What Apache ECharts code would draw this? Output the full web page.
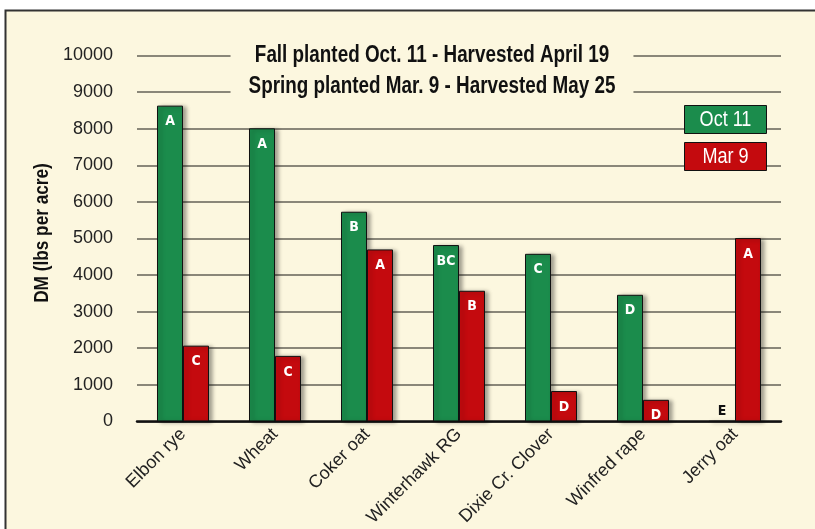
<!DOCTYPE html>
<html>
<head>
  <meta charset="utf-8">
  <title>DM yield</title>
  <script src="https://cdn.jsdelivr.net/npm/echarts@6/dist/echarts.min.js"></script>
  <style>
    html, body { margin: 0; padding: 0; background: #fff; }
    #chart { width: 815px; height: 529px; }
  </style>
</head>
<body>
<div id="chart"></div>
<script type="text/javascript">
  // values
  const categories = ['Elbon rye', 'Wheat', 'Coker oat', 'Winterhawk RG', 'Dixie Cr. Clover', 'Winfred rape', 'Jerry oat'];
  const seriesNames = ['Oct 11', 'Mar 9'];
  const oct11 = [8630, 8010, 5730, 4820, 4580, 3460, 0];
  const mar9 = [2070, 1790, 4700, 3570, 830, 590, 5010];
  const oct11Letters = ['A', 'A', 'B', 'BC', 'C', 'D', 'E'];
  const mar9Letters = ['C', 'C', 'A', 'B', 'D', 'D', 'A'];
  const yMin = 0, yMax = 10000, yStep = 1000;
  const titleLines = ['Fall planted Oct. 11 - Harvested April 19', 'Spring planted Mar. 9 - Harvested May 25'];
  const yName = 'DM (lbs per acre)';

  const cream = '#fcf7df';
  const colors = ['#1b8c4c', '#c40a0e'];
  const sans = "'Liberation Sans', Arial, sans-serif";
  const narrow = "'Liberation Sans Narrow', 'DejaVu Sans Condensed', sans-serif";
  const squeeze = 0.82; // fake a narrow face

  function barData(values, letters) {
    return values.map((v, i) => {
      const item = { value: v, label: { formatter: letters[i] } };
      if (v === 0) {
        item.label.position = 'top';
        item.label.distance = 3;
        item.label.color = '#111';
      }
      return item;
    });
  }

  const barStyle = (color) => ({
    color: color,
    borderColor: '#111',
    borderWidth: 1,
    shadowBlur: 4,
    shadowColor: 'rgba(0,0,0,0.35)',
    shadowOffsetX: 3,
    shadowOffsetY: 1
  });

  const barLabel = {
    show: true,
    position: 'insideTop',
    distance: 9,
    color: '#fff',
    fontWeight: 'bold',
    fontSize: 14,
    fontFamily: narrow
  };

  // legend boxes, text inside the coloured box
  const legendBoxes = [];
  seriesNames.forEach((name, i) => {
    const top = 105 + i * 37;
    legendBoxes.push({
      type: 'rect',
      z: 60,
      shape: { x: 684.5, y: top + 0.5, width: 82, height: 28 },
      style: { fill: colors[i], stroke: '#111', lineWidth: 1 }
    });
    legendBoxes.push({
      type: 'text',
      z: 61,
      x: 725.5,
      y: top + 15,
      scaleX: squeeze,
      style: {
        text: name, fill: '#fff', fontSize: 22, fontFamily: sans,
        align: 'center', verticalAlign: 'middle'
      }
    });
  });

  let chart = echarts.init(document.getElementById('chart'));
  chart.setOption({
    backgroundColor: '#fff',
    animation: false,
    graphic: [
      {
        type: 'rect',
        z: -10,
        silent: true,
        shape: { x: 5.5, y: 10.5, width: 830, height: 540 },
        style: { fill: cream, stroke: '#333', lineWidth: 2 }
      },
      {
        type: 'text',
        x: 432,
        y: 39,
        z: 50,
        scaleX: squeeze,
        style: {
          text: titleLines.join('\n'),
          fontFamily: sans,
          fontWeight: 'bold',
          fontSize: 23,
          lineHeight: 31,
          fill: '#111',
          align: 'center',
          verticalAlign: 'top',
          backgroundColor: cream,
          padding: [1, 22]
        }
      },
      {
        type: 'text',
        x: 42,
        y: 233,
        rotation: Math.PI / 2,
        scaleX: squeeze,
        style: {
          text: yName,
          fontFamily: sans,
          fontWeight: 'bold',
          fontSize: 21,
          fill: '#111',
          align: 'center',
          verticalAlign: 'middle'
        }
      }
    ].concat(legendBoxes),
    grid: { left: 137, right: 34, top: 55.5, bottom: 107.5 },
    xAxis: {
      type: 'category',
      data: categories,
      axisTick: { show: false },
      axisLine: { lineStyle: { color: '#111', width: 2.5 } },
      axisLabel: {
        rotate: 45,
        margin: 10,
        fontSize: 18,
        fontFamily: sans,
        color: '#222',
        interval: 0
      }
    },
    yAxis: {
      type: 'value',
      min: yMin,
      max: yMax,
      interval: yStep,
      axisLine: { show: false },
      axisTick: { show: false },
      axisLabel: {
        margin: 24,
        fontSize: 18,
        fontFamily: sans,
        color: '#222',
        formatter: (v) => String(v)
      },
      splitLine: { lineStyle: { color: '#8a8779', width: 2 } }
    },
    series: [
      {
        name: seriesNames[0],
        type: 'bar',
        barWidth: 26,
        barGap: '0%',
        data: barData(oct11, oct11Letters),
        itemStyle: barStyle(colors[0]),
        label: barLabel
      },
      {
        name: seriesNames[1],
        type: 'bar',
        barWidth: 26,
        barGap: '0%',
        data: barData(mar9, mar9Letters),
        itemStyle: barStyle(colors[1]),
        label: barLabel
      }
    ]
  });
</script>
</body>
</html>
